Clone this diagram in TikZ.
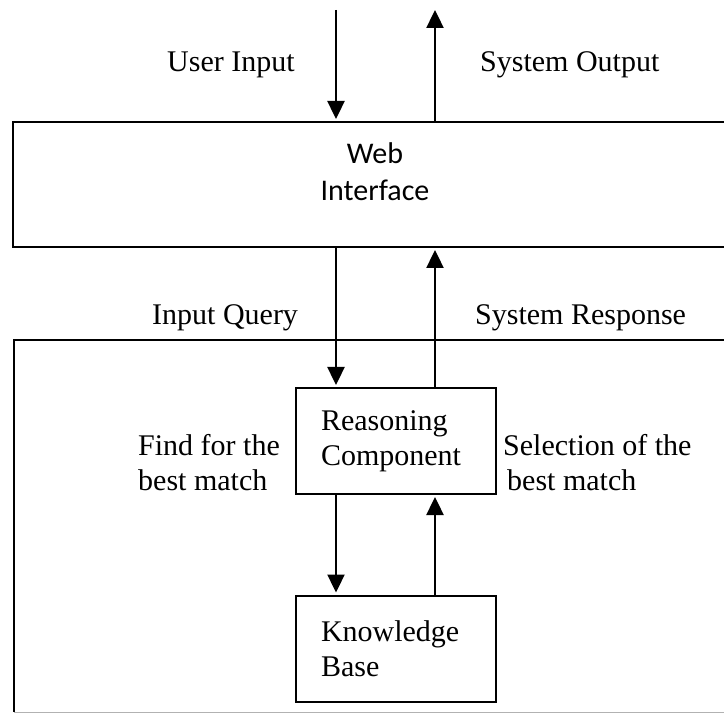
\documentclass[tikz,border=0pt]{standalone}
\usepackage{fontspec}
\setmainfont{Liberation Serif}
\newfontfamily\sansf{Carlito}
\usetikzlibrary{arrows.meta}
\begin{document}
\begin{tikzpicture}[x=1pt,y=-1pt,
  lbl/.style={inner sep=0pt,font=\fontsize{30}{35}\selectfont,align=left},
  box/.style={draw,line width=2pt,inner sep=0pt},
  inbox/.style={box,minimum width=200pt,minimum height=106pt,text width=150pt,inner xsep=25pt,align=left,font=\fontsize{30}{35}\selectfont},
  arr/.style={line width=2.4pt,-{Triangle[width=17pt,length=18pt]}}]
\useasboundingbox (0,0) rectangle (724,714);
\clip (0,0) rectangle (724,714);
% web interface box
\node[box,minimum width=724pt,minimum height=125pt] (web) at (375,184.5) {};
\node[inner sep=0pt,font=\sansf\fontsize{30}{37}\selectfont,align=center] (webtext) at (375,172) {Web\\Interface};
% outer container
\draw[line width=2pt] (740,340) -- (14,340) -- (14,712);
\draw[line width=1pt,gray!60] (14,712) -- (740,712);
\coordinate (outer) at (14,340);
% inner boxes
\node[inbox] (reason) at (396,441) {Reasoning\\Component};
\node[inbox] (know) at (396,648.5) {Knowledge\\Base};
% top arrows
\coordinate (uin) at (336,10);
\coordinate (sout) at (435,10);
\draw[arr,shorten >=2pt] (uin) -- (uin |- web.north);
\draw[arr] (sout |- web.north) -- (sout);
% middle arrows
\draw[arr,shorten >=2pt] (uin |- web.south) -- (uin |- reason.north);
\draw[arr,shorten >=2pt] (sout |- reason.north) -- (sout |- web.south);
% lower arrows
\draw[arr,shorten >=2pt] (uin |- reason.south) -- (uin |- know.north);
\draw[arr,shorten >=2pt] (sout |- know.north) -- (sout |- reason.south);
% labels
\node[lbl,anchor=base west] (l1) at (167,72) {User Input};
\node[lbl,anchor=base west] (l2) at (480,72) {System Output};
\node[lbl,anchor=base west] (l3) at (152,325) {Input Query};
\node[lbl,anchor=base west] (l4) at (475,325) {System Response};
\node[lbl,anchor=west] (l5) at (138,463) {Find for the\\best match};
\node[lbl,anchor=west] (l6) at (503,463) {Selection of the\\\hspace*{4pt}best match};
\end{tikzpicture}
\end{document}
